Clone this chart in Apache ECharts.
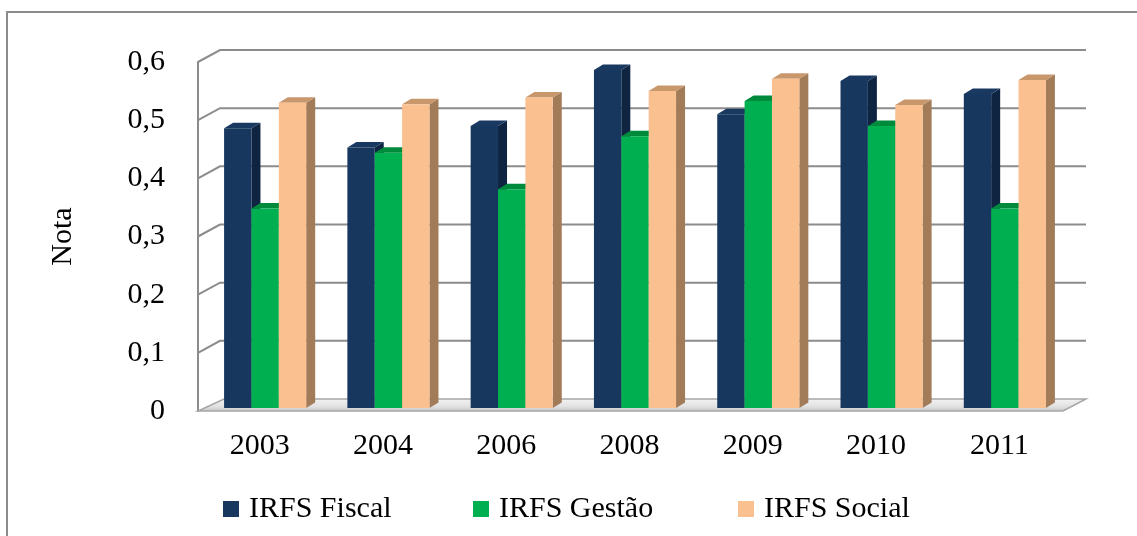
<!DOCTYPE html>
<html>
<head>
<meta charset="utf-8">
<script src="https://cdn.jsdelivr.net/npm/echarts@6/dist/echarts.min.js"></script>
<style>
  html, body { margin: 0; padding: 0; background: #fff; }
  #chart { width: 1137px; height: 536px; }
</style>
</head>
<body>
<div id="chart"></div>
<script>
// anos e notas
const anos = ['2003', '2004', '2006', '2008', '2009', '2010', '2011'];
const fiscal = [0.481, 0.448, 0.485, 0.581, 0.505, 0.562, 0.540];
const gestao = [0.343, 0.439, 0.376, 0.467, 0.528, 0.485, 0.343];
const social = [0.525, 0.522, 0.534, 0.545, 0.566, 0.521, 0.564];
const ticks = [0, 0.1, 0.2, 0.3, 0.4, 0.5, 0.6];

const fonte = '"Liberation Serif", "Times New Roman", serif';

// profundidade da parede / do chão e das barras (px)
const paredeDx = 22, paredeDy = -12;
const barraDx = 9, barraDy = -5.5;
const planoDx = 5.5, planoDy = -3;

const cores = [
  { frente: '#17375E', lado: '#0F2440', topo: '#1A3961' },
  { frente: '#00B050', lado: '#007A35', topo: '#008A3C' },
  { frente: '#FAC090', lado: '#A27C59', topo: '#C8976C' }
];

function renderParede (params, api) {
  const cs = params.coordSys;
  const v = api.value(0);
  const y = api.coord([0, v])[1];
  const x0 = cs.x;
  const x1 = cs.x + cs.width;
  if (v === 0) {
    return {
      type: 'polygon',
      shape: { points: [[x0, y], [x1 + 2, y], [x1 + 2 + paredeDx + 1, y + paredeDy], [x0 + paredeDx + 4, y + paredeDy]] },
      style: {
        fill: new echarts.graphic.LinearGradient(0, 0, 0, 1, [
          { offset: 0, color: '#f4f4f4' },
          { offset: 0.6, color: '#e2e2e2' },
          { offset: 1, color: '#c4c4c4' }
        ]),
        stroke: '#a6a6a6',
        lineWidth: 1.5
      }
    };
  }
  return {
    type: 'polyline',
    shape: { points: [[x0, y], [x0 + paredeDx, y + paredeDy], [x1 + paredeDx + 3, y + paredeDy]] },
    style: { stroke: '#8c8c8c', lineWidth: 2, fill: null }
  };
}

function fazBarra (idx) {
  return function (params, api) {
    const cat = api.value(0);
    const val = api.value(1);
    const c0 = api.coord([cat, 0]);
    const c1 = api.coord([cat, val]);
    const bw = api.size([1, 0])[0] * 0.222;
    const x = c0[0] - 1.5 * bw + planoDx + idx * bw;
    const yb = c0[1] + planoDy;
    const yt = c1[1] + planoDy;
    const c = cores[idx];
    return {
      type: 'group',
      children: [
        {
          type: 'polygon',
          shape: { points: [[x + bw, yt], [x + bw + barraDx, yt + barraDy], [x + bw + barraDx, yb + barraDy], [x + bw, yb]] },
          style: { fill: c.lado }
        },
        {
          type: 'polygon',
          shape: { points: [[x, yt], [x + barraDx, yt + barraDy], [x + bw + barraDx, yt + barraDy], [x + bw, yt]] },
          style: { fill: c.topo }
        },
        {
          type: 'rect',
          shape: { x: x, y: yt, width: bw, height: yb - yt },
          style: { fill: c.frente }
        }
      ]
    };
  };
}

const nomes = ['IRFS Fiscal', 'IRFS Gestão', 'IRFS Social'];
const valores = [fiscal, gestao, social];
const legendaX = [218, 468, 733];

const option = {
  backgroundColor: '#fff',
  animation: false,
  graphic: [
    {
      type: 'rect',
      shape: { x: 7, y: 12, width: 1300, height: 700 },
      style: { fill: null, stroke: '#8c8c8c', lineWidth: 2 },
      z: 100
    }
  ],
  grid: { left: 198, right: 76, top: 62, bottom: 125 },
  legend: nomes.map((n, i) => ({
    data: [n],
    left: legendaX[i],
    top: 489,
    icon: 'rect',
    itemWidth: 16,
    itemHeight: 16,
    itemGap: 0,
    textStyle: { fontFamily: fonte, fontSize: 30, color: '#000', padding: [0, 0, 0, 5] }
  })),
  xAxis: {
    type: 'category',
    data: anos,
    axisLine: { show: false },
    axisTick: { show: false },
    axisLabel: { fontFamily: fonte, fontSize: 30, color: '#000', margin: 20 }
  },
  yAxis: {
    type: 'value',
    min: 0,
    max: 0.6,
    interval: 0.1,
    name: 'Nota',
    nameLocation: 'middle',
    nameRotate: 90,
    nameGap: 120,
    nameTextStyle: { fontFamily: fonte, fontSize: 30, color: '#000' },
    axisLine: { show: true, lineStyle: { color: '#8c8c8c', width: 2 } },
    axisTick: { show: false },
    splitLine: { show: false },
    axisLabel: {
      fontFamily: fonte,
      fontSize: 30,
      color: '#000',
      margin: 33,
      formatter: v => String(Math.round(v * 10) / 10).replace('.', ',')
    }
  },
  series: [
    {
      type: 'custom',
      name: 'parede',
      renderItem: renderParede,
      data: ticks.map(t => [t]),
      encode: { y: 0 },
      silent: true,
      z: 1
    }
  ].concat(nomes.map((n, i) => ({
    type: 'custom',
    name: n,
    itemStyle: { color: cores[i].frente },
    renderItem: fazBarra(i),
    data: anos.map((a, k) => [k, valores[i][k]]),
    encode: { x: 0, y: 1 },
    z: 2 + i
  })))
};

const chart = echarts.init(document.getElementById('chart'));
chart.setOption(option);
</script>
</body>
</html>
